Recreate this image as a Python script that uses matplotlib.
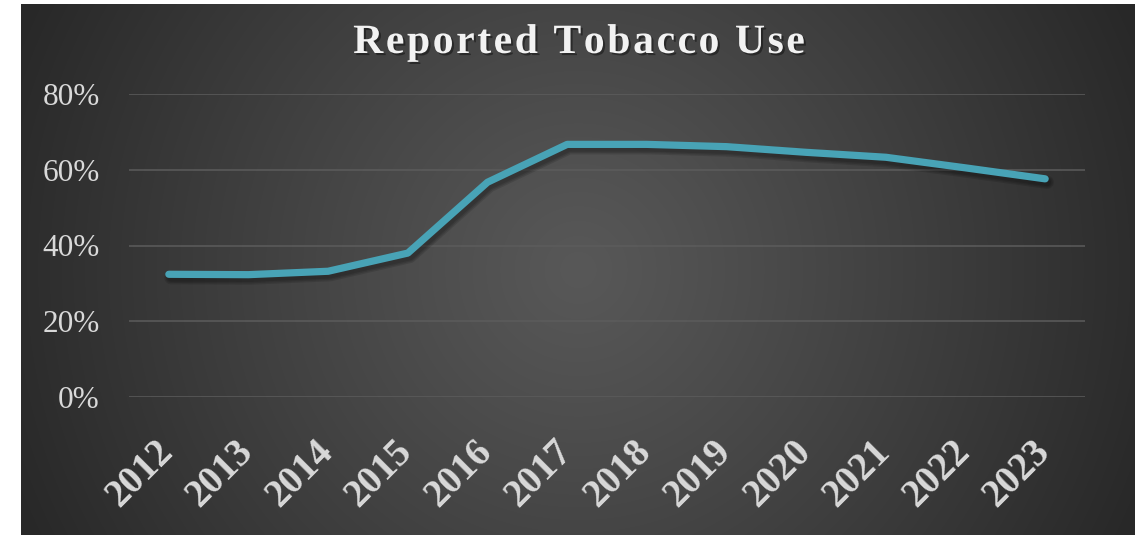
import numpy as np
import matplotlib
matplotlib.use("Agg")
import matplotlib.pyplot as plt
import matplotlib.patheffects as pe
from matplotlib.transforms import blended_transform_factory

# Data
years = ["2012", "2013", "2014", "2015", "2016", "2017",
         "2018", "2019", "2020", "2021", "2022", "2023"]
tobacco_use = [32.4, 32.3, 33.2, 38.0, 56.7, 66.7,
               66.7, 66.1, 64.6, 63.3, 60.5, 57.6]
y_ticks = [0, 20, 40, 60, 80]
y_tick_labels = ["0%", "20%", "40%", "60%", "80%"]
title = "Reported Tobacco Use"

W, H, DPI = 1145, 535, 100
fig = plt.figure(figsize=(W / DPI, H / DPI), dpi=DPI)
fig.patch.set_facecolor("white")

# Chart-area background: radial gradient
bx0, bx1, by0, by1 = 21, 1135, 4, 535
bg = fig.add_axes([bx0 / W, 1 - by1 / H, (bx1 - bx0) / W, (by1 - by0) / H])
bg.set_axis_off()
gx, gy = np.meshgrid(np.arange(bx1 - bx0), np.arange(by1 - by0))
cx, cy = (bx1 - bx0) / 2, (by1 - by0) / 2
r = np.clip(np.hypot(gx - cx, gy - cy) / 610.0, 0, 1)
c_center, c_edge = 88 / 255, 40 / 255
shade = c_center - (c_center - c_edge) * r ** 1.1
bg.imshow(np.dstack([shade, shade, shade]), aspect="auto",
          extent=[0, 1, 0, 1], interpolation="bilinear")
bg.set_xlim(0, 1)
bg.set_ylim(0, 1)

# Plot area
px0, px1, py0, py1 = 129, 1085, 94, 397
ax = fig.add_axes([px0 / W, 1 - py1 / H, (px1 - px0) / W, (py1 - py0) / H])
ax.patch.set_alpha(0)
for s in ax.spines.values():
    s.set_visible(False)

x = np.arange(len(years))
ax.set_xlim(-0.5, len(years) - 0.5)
ax.set_ylim(0, 80)

for yv in y_ticks:
    ax.axhline(yv, color="#5c5c5c", lw=1.1, zorder=1)

# Soft shadow under the line, built from a few widening translucent strokes
shadow = [pe.SimpleLineShadow(offset=(1.5, -2.5), shadow_color="black",
                              alpha=0.12, linewidth=lw)
          for lw in (9.5, 7.5, 5.5)]
ax.plot(x, tobacco_use, color="#48a3b6", lw=5.2, solid_capstyle="round",
        solid_joinstyle="round", zorder=3,
        path_effects=shadow + [pe.Normal()])

ax.set_yticks(y_ticks)
ax.set_yticklabels(y_tick_labels, fontfamily="Liberation Serif", fontsize=22.5,
                   color="#d9d9d9")
ax.tick_params(axis="y", length=0, pad=21)
ax.set_xticks([])

# Rotated year labels
trans = blended_transform_factory(ax.transData, ax.transAxes)
for xi, lab in zip(x, years):
    ax.text(xi + 0.075, -0.185, lab, transform=trans, rotation=45,
            rotation_mode="anchor", ha="right", va="baseline",
            fontfamily="Liberation Serif", fontweight="bold", fontsize=28,
            color="#d9d9d9", clip_on=False)

# Letter-spaced title
renderer = fig.canvas.get_renderer()
tfont = dict(fontfamily="Liberation Serif", fontweight="bold", fontsize=30)


def text_width(s):
    t = fig.text(0, 0, s, **tfont)
    w = t.get_window_extent(renderer).width
    t.remove()
    return w


base = text_width("xx")
advances = [text_width("x" + ch + "x") - base for ch in title]
spacing = 2.6
total = sum(advances) + spacing * (len(title) - 1)
xpos = 579 - total / 2
baseline_y = 53
for ch, adv in zip(title, advances):
    if ch != " ":
        fig.text(xpos / W, 1 - baseline_y / H, ch, ha="left", va="baseline",
                 color="#f2f2f2", **tfont,
                 path_effects=[pe.withSimplePatchShadow(offset=(1.5, -1.5),
                                                        shadow_rgbFace="black",
                                                        alpha=0.4)])
    xpos += adv + spacing

fig.savefig("out.png", dpi=DPI, facecolor=fig.get_facecolor())
